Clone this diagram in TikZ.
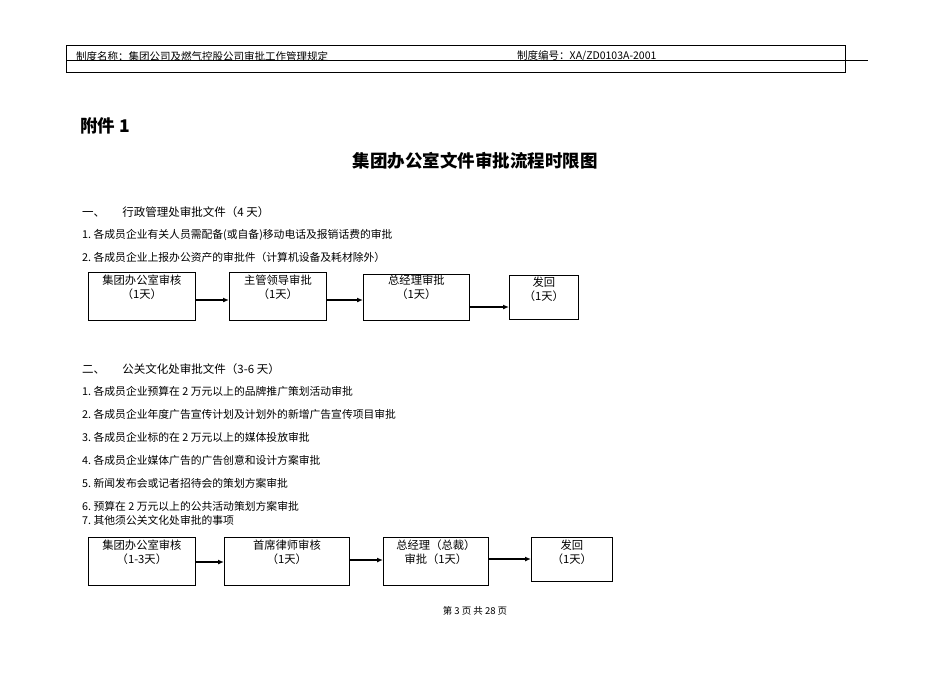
\documentclass[tikz,border=0pt]{standalone}
\usepackage{fontspec}
\usetikzlibrary{arrows.meta}
\setmainfont{Liberation Serif}
\newfontfamily\cjk{Noto Sans CJK SC}
\begin{document}
\begin{tikzpicture}[x=1pt,y=-1pt,
  txt/.style={anchor=west,inner sep=0pt,font=\cjk\fontsize{10.8}{12}\selectfont},
  bx/.style={draw,line width=0.8pt,anchor=north west,inner sep=0pt},
  bt/.style={align=center,inner sep=0pt,anchor=north,font=\cjk\fontsize{11.3}{14}\selectfont},
  arr/.style={-{Latex[length=6pt,width=5pt]},line width=1.3pt}]
\useasboundingbox (0,0) rectangle (950,672);
\draw[line width=0.8pt] (66,45) rectangle (845,72);
\draw[line width=0.6pt] (66,60) -- (868,60);
\node[txt,font=\cjk\fontsize{10.5}{12}\selectfont] (h1) at (76,56) {制度名称：集团公司及燃气控股公司审批工作管理规定};
\node[txt,font=\cjk\fontsize{10.5}{12}\selectfont] (h2) at (517,56) {制度编号：XA/ZD0103A-2001};
\node[txt,font=\cjk\bfseries\fontsize{17.5}{20}\selectfont] (fj) at (80,126) {附件 1};
\node[inner sep=0pt,font=\cjk\bfseries\fontsize{17.5}{20}\selectfont] (tt) at (475,161) {集团办公室文件审批流程时限图};
\node[txt,font=\cjk\fontsize{11.5}{13}\selectfont] (s1) at (82,212) {一、\hspace{1.5em}行政管理处审批文件（4 天）};
\node[txt] (a1) at (82,235) {1.\ 各成员企业有关人员需配备(或自备)移动电话及报销话费的审批};
\node[txt] (a2) at (82,257) {2.\ 各成员企业上报办公资产的审批件（计算机设备及耗材除外）};
\node[bx,minimum width=107pt,minimum height=48pt] (b1) at (88,272) {};
\node[bx,minimum width=97pt,minimum height=48pt] (b2) at (229,272) {};
\node[bx,minimum width=106pt,minimum height=46pt] (b3) at (363,274) {};
\node[bx,minimum width=69pt,minimum height=44pt] (b4) at (509,275) {};
\node[bt] (t1) at (b1.north) [yshift=-3pt] {集团办公室审核\\（1天）};
\node[bt] (t2) at (b2.north) [yshift=-3pt] {主管领导审批\\（1天）};
\node[bt] (t3) at (b3.north) [yshift=-1pt] {总经理审批\\（1天）};
\node[bt] (t4) at (b4.north) [yshift=-2pt] {发回\\（1天）};
\draw[arr] (b1.east |- 0,300) -- (b2.west |- 0,300);
\draw[arr] (b2.east |- 0,300) -- (b3.west |- 0,300);
\draw[arr] (b3.east |- 0,307) -- (b4.west |- 0,307);
\node[txt,font=\cjk\fontsize{11.5}{13}\selectfont] (s2) at (82,369) {二、\hspace{1.5em}公关文化处审批文件（3-6 天）};
\node[txt] (c1) at (82,391) {1.\ 各成员企业预算在 2 万元以上的品牌推广策划活动审批};
\node[txt] (c2) at (82,414) {2.\ 各成员企业年度广告宣传计划及计划外的新增广告宣传项目审批};
\node[txt] (c3) at (82,437) {3.\ 各成员企业标的在 2 万元以上的媒体投放审批};
\node[txt] (c4) at (82,460) {4.\ 各成员企业媒体广告的广告创意和设计方案审批};
\node[txt] (c5) at (82,483) {5.\ 新闻发布会或记者招待会的策划方案审批};
\node[txt] (c6) at (82,506) {6.\ 预算在 2 万元以上的公共活动策划方案审批};
\node[txt] (c7) at (82,520) {7.\ 其他须公关文化处审批的事项};
\node[bx,minimum width=107pt,minimum height=48pt] (d1) at (88,537) {};
\node[bx,minimum width=125pt,minimum height=48pt] (d2) at (224,537) {};
\node[bx,minimum width=105pt,minimum height=48pt] (d3) at (383,537) {};
\node[bx,minimum width=81pt,minimum height=44pt] (d4) at (531,537) {};
\node[bt] (u1) at (d1.north) [yshift=-3pt] {集团办公室审核\\（1-3天）};
\node[bt] (u2) at (d2.north) [yshift=-3pt] {首席律师审核\\（1天）};
\node[bt] (u3) at (d3.north) [yshift=-3pt] {总经理（总裁）\\审批（1天）};
\node[bt] (u4) at (d4.north) [yshift=-3pt] {发回\\（1天）};
\draw[arr] (d1.east |- 0,562) -- (d2.west |- 0,562);
\draw[arr] (d2.east |- 0,560) -- (d3.west |- 0,560);
\draw[arr] (d3.east |- 0,559) -- (d4.west |- 0,559);
\node[inner sep=0pt,font=\cjk\fontsize{9.5}{11}\selectfont] (ft) at (475,611) {第 3 页 共 28 页};
\end{tikzpicture}
\end{document}
